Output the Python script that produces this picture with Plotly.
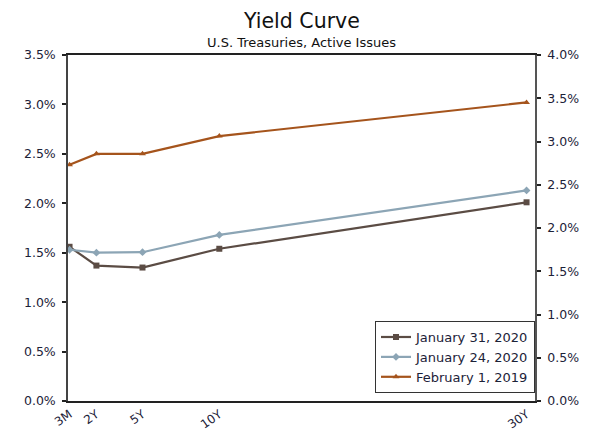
import plotly.graph_objects as go

maturities = [0.25, 2, 5, 10, 30]
tick_labels = ["3M", "2Y", "5Y", "10Y", "30Y"]

jan31_2020 = [1.56, 1.37, 1.35, 1.54, 2.01]
jan24_2020 = [1.53, 1.50, 1.505, 1.68, 2.13]
feb01_2019 = [2.39, 2.50, 2.50, 2.68, 3.02]

series = [
    ("January 31, 2020", jan31_2020, "#5b4c44", "square", 6),
    ("January 24, 2020", jan24_2020, "#8ca5b5", "diamond", 6),
    ("February 1, 2019", feb01_2019, "#a5541c", "triangle-up", 6),
]

font = "DejaVu Sans"
label_color = "#1c2238"

fig = go.Figure()
for name, vals, color, sym, size in series:
    fig.add_trace(go.Scatter(
        x=maturities, y=vals, name=name, mode="lines+markers",
        line=dict(color=color, width=2.2),
        marker=dict(symbol=sym, size=size, color=color),
    ))

# invisible trace to activate right axis
fig.add_trace(go.Scatter(x=[maturities[0]], y=[0], yaxis="y2", mode="markers",
                         marker=dict(opacity=0), showlegend=False, hoverinfo="skip"))

fig.add_annotation(text="Yield Curve", xref="paper", yref="paper", x=0.5, y=1.0,
                   yshift=20, xanchor="center", yanchor="bottom", showarrow=False,
                   font=dict(family=font, size=20.5, color="#111111"))
fig.add_annotation(text="U.S. Treasuries, Active Issues", xref="paper", yref="paper",
                   x=0.5, y=1.0, yshift=3, xanchor="center", yanchor="bottom", showarrow=False,
                   font=dict(family=font, size=13, color="#111111"))

tick_common = dict(
    showgrid=False, zeroline=False, showline=True, linewidth=1.5, automargin=False,
    ticks="outside", ticklen=4, tickcolor="#222222", tickwidth=1.5,
    tickfont=dict(family=font, size=12.5, color=label_color),
)

fig.update_layout(
    width=592, height=431,
    margin=dict(l=60, r=65, t=47, b=38, autoexpand=False),
    paper_bgcolor="white", plot_bgcolor="white",
    font=dict(family=font, size=12, color=label_color),
    xaxis=dict(
        range=[0.15, 30.55], tickmode="array", tickvals=maturities, ticktext=tick_labels,
        tickangle=-35, showgrid=False, zeroline=False, showline=True,
        linecolor="#222222", linewidth=1.5, ticks="", mirror=True, automargin=False,
        tickfont=dict(family=font, size=12, color=label_color),
    ),
    yaxis=dict(range=[0, 3.5], dtick=0.5, tickformat=".1f", ticksuffix="%",
               linecolor="#444444", ticklabelstandoff=4, **tick_common),
    yaxis2=dict(range=[0, 4.0], dtick=0.5, tickformat=".1f", ticksuffix="%",
                overlaying="y", side="right", linecolor="#555555",
                ticklabelstandoff=4, **tick_common),
    legend=dict(
        x=1.0, xanchor="right", y=0.023, yanchor="bottom",
        bgcolor="white", bordercolor="#333333", borderwidth=1,
        font=dict(family=font, size=13, color=label_color),
        itemwidth=30, tracegroupgap=2,
    ),
    showlegend=True,
)

fig.write_html("out.html")
